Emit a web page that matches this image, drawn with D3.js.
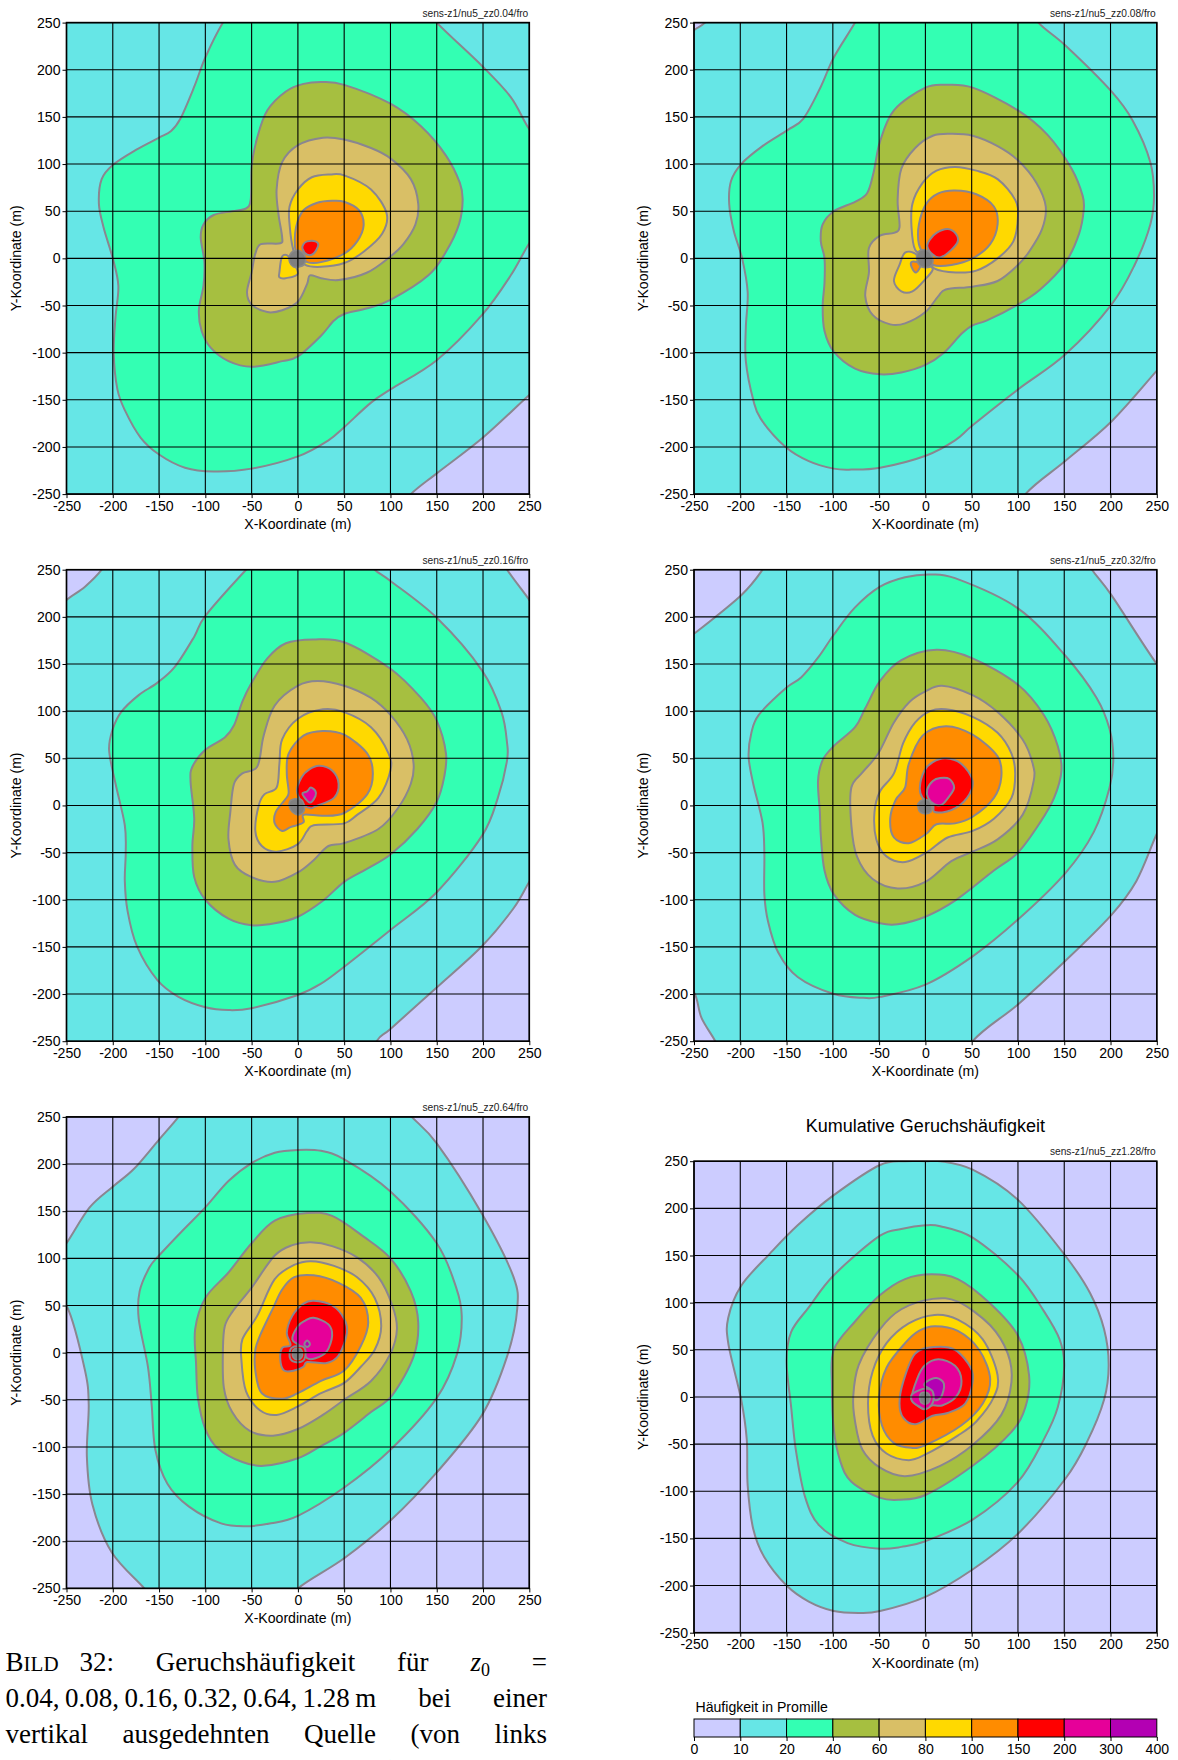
<!DOCTYPE html>
<html><head><meta charset="utf-8">
<style>html,body{margin:0;padding:0;background:#fff;overflow:hidden}svg{display:block}</style>
<script src="https://cdn.jsdelivr.net/npm/d3@7/dist/d3.min.js"></script>
</head><body><div id="chart"></div>
<script>
// ---------- shared scale content ----------
const thresholds = [0,10,20,40,60,80,100,150,200,300,400];
const bandColors = ["#ccccff","#66e6e6","#33ffb3","#a6bf40","#d9bf66","#ffd900","#ff8c00","#ff0000","#e60099","#b300b3"];
const axisTicks = [-250,-200,-150,-100,-50,0,50,100,150,200,250];
const headers = ["sens-z1/nu5_zz0.04/fro","sens-z1/nu5_zz0.08/fro","sens-z1/nu5_zz0.16/fro","sens-z1/nu5_zz0.32/fro","sens-z1/nu5_zz0.64/fro","sens-z1/nu5_zz1.28/fro"];

// ---------- panel 1 (z0 = 0.04) ----------
const p1c10=[[-300,300],[300,300],[300,-100],[275,-125],[250,-145],[200,-190],[150,-228],[122,-250],[100,-275],[60,-300],[-300,-300]];
const p1c20=[[-81,250],[-100,213],[-112,182],[-127,148],[-137,135],[-150,128],[-175,115],[-200,99],[-212,84],[-215,58],[-210,33],[-200,0],[-194,-29],[-197,-62],[-199,-100],[-195,-139],[-187,-161],[-170,-190],[-150,-208],[-122,-222],[-91,-226],[-50,-223],[0,-210],[33,-193],[50,-179],[79,-153],[100,-139],[150,-108],[199,-60],[230,-18],[250,16],[275,50],[280,90],[270,115],[250,137],[230,171],[199,204],[150,250],[130,275],[60,285],[-60,280]];
const p1c40=[[27,187],[50,184],[100,164],[133,140],[160,109],[175,80],[178,62],[174,36],[160,7],[141,-18],[100,-44],[75,-53],[50,-59],[39,-66],[25,-82],[0,-104],[-17,-109],[-50,-115],[-75,-109],[-94,-95],[-104,-77],[-107,-55],[-102,-29],[-101,-4],[-105,22],[-102,36],[-91,46],[-71,50],[-56,53],[-51,62],[-50,98],[-44,128],[-33,157],[-13,177],[6,185]];
const p1c60=[[27,128],[50,126],[79,117],[100,106],[122,84],[130,58],[127,36],[114,15],[100,2],[75,-15],[44,-23],[25,-21],[13,-18],[10,-27],[0,-46],[-17,-55],[-33,-57],[-50,-49],[-55,-36],[-50,-15],[-46,5],[-40,15],[-19,16],[-17,22],[-21,47],[-23,73],[-17,102],[0,120]];
const p1c80=[[35,89],[50,88],[79,73],[96,47],[91,26],[71,7],[50,-5],[25,-9],[8,-7],[-1,4],[-5,9],[-9,36],[-9,55],[0,73],[15,86]];
const p1c80b=[[-17,2],[-10,2],[0,-16],[-13.5,-21],[-20,-20],[-20,-15]];
const p1c100=[[37,61],[50,60],[66,51],[71,35],[64,18],[50,5],[25,-4],[10,-4],[0,5],[-3,11],[-2,33],[6,51],[21,59]];
const p1c150=[[10,18],[19,18],[22,14],[17,5],[10,4],[5,10],[6,15]];
const p1src=[[-9,3],[-4,8],[4,7],[8,1],[7,-6],[2,-9],[-5,-9],[-9,-4]];

// ---------- panel 2 (z0 = 0.08) ----------
const p2c10=[[-238,250],[-250,242],[-270,225],[-300,200],[-300,-300],[70,-300],[108,-250],[151,-215],[201,-173],[250,-119],[275,-90],[300,-70],[300,300],[-200,300],[-220,270]];
const p2c20=[[-76,250],[-99,213],[-113,182],[-132,148],[-149,136],[-176,119],[-199,100],[-210,82],[-212,58],[-207,29],[-198,0],[-192,-36],[-194,-73],[-194,-109],[-186,-150],[-178,-170],[-151,-200],[-126,-215],[-99,-223],[-80,-224],[-49,-222],[1,-209],[32,-193],[51,-177],[100,-139],[151,-102],[201,-49],[226,-7],[243,36],[247,66],[243,102],[224,146],[201,177],[151,226],[122,250],[100,280],[20,290],[-60,280]];
const p2c40=[[22,184],[51,181],[100,157],[132,131],[158,95],[170,66],[171,51],[166,26],[151,-5],[124,-33],[100,-49],[66,-66],[51,-71],[39,-80],[20,-100],[0,-113],[-26,-121],[-49,-123],[-76,-117],[-99,-99],[-109,-77],[-111,-51],[-109,-26],[-109,0],[-113,18],[-111,36],[-99,50],[-76,60],[-63,69],[-56,91],[-49,124],[-34,157],[0,181]];
const p2c60=[[28,132],[51,130],[78,119],[100,104],[120,80],[130,55],[126,31],[112,7],[100,-7],[78,-24],[51,-30],[22,-33],[14,-40],[0,-57],[-22,-69],[-38,-70],[-57,-60],[-65,-40],[-61,-15],[-61,11],[-49,24],[-34,27],[-28,33],[-30,62],[-26,95],[-11,117],[8,130]];
const p2c80=[[32,97],[55,93],[78,84],[97,62],[100,44],[95,18],[78,0],[55,-13],[33,-15],[10,-11],[1,2],[-11,9],[-15,33],[-14,58],[-3,80],[12,93]];
const p2c80b=[[-22,6],[-11,5],[-3,-5],[8,-11],[0,-22],[-14,-35],[-26,-35],[-34,-24],[-28,-7]];
const p2c100=[[32,72],[55,68],[74,55],[78,36],[70,15],[51,0],[28,-7],[8,-7],[0,2],[-7,15],[-7,36],[1,58],[14,69]];
const p2c100b=[[-15,-4],[-9,-4],[-5,-7],[-10,-15],[-15,-9]];
const p2c150=[[12,27],[24,31],[33,26],[35,18],[28,9],[16,1],[8,4],[2,13],[5,20]];
const p2src=[[-9,5],[-3,9],[4,7],[8,0],[7,-7],[1,-10],[-6,-8],[-9,-2]];

// ---------- panel 3 (z0 = 0.16) ----------
const p3c10=[[-212,250],[-230,232],[-250,218],[-270,200],[-300,170],[-300,-300],[60,-300],[85,-250],[100,-237],[150,-193],[199,-149],[233,-109],[250,-81],[270,-50],[300,-20],[300,180],[270,190],[250,218],[226,250],[215,270],[200,300],[-180,300],[-200,270]];
const p3c20=[[-56,250],[-100,201],[-112,179],[-133,147],[-152,130],[-172,117],[-191,99],[-200,81],[-204,59],[-197,23],[-187,-21],[-186,-50],[-187,-80],[-184,-112],[-174,-149],[-152,-185],[-129,-203],[-100,-214],[-75,-217],[-50,-215],[0,-201],[25,-189],[50,-171],[100,-132],[150,-92],[199,-32],[216,8],[226,48],[226,66],[220,99],[199,143],[150,199],[100,238],[83,250],[75,262],[10,275],[-40,265]];
const p3c40=[[17,176],[50,173],[100,145],[133,114],[150,90],[160,55],[158,30],[150,4],[129,-25],[100,-52],[75,-67],[50,-81],[27,-101],[0,-118],[-25,-125],[-50,-127],[-75,-120],[-100,-100],[-112,-76],[-114,-43],[-112,-14],[-116,26],[-114,41],[-100,59],[-79,72],[-69,85],[-60,110],[-50,130],[-33,156],[-13,172]];
const p3c60=[[21,132],[50,127],[79,114],[100,96],[118,70],[125,44],[122,23],[108,-3],[87,-25],[50,-40],[33,-43],[17,-58],[0,-71],[-25,-81],[-50,-76],[-68,-63],[-75,-36],[-73,-7],[-69,23],[-60,34],[-44,41],[-37,74],[-25,106],[0,127]];
const p3c80=[[27,102],[50,99],[79,83],[98,55],[100,37],[87,8],[64,-10],[50,-19],[17,-21],[10,-27],[0,-41],[-23,-49],[-39,-43],[-46,-27],[-42,1],[-36,12],[-23,19],[-20,44],[-17,70],[0,92]];
const p3c100=[[27,79],[50,75],[75,55],[81,34],[75,12],[50,-8],[27,-11],[6,-10],[6,-18],[-8,-23],[-17,-27],[-25,-19],[-24,-7],[-14,6],[-10,13],[-12,34],[-10,55],[6,74]];
const p3c150=[[23,42],[37,37],[44,23],[39,8],[19,-1],[14,-3],[7,0],[-1,15],[4,30],[12,38]];
const p3c200=[[10,15],[14,19],[19,15],[19,10],[13,3],[6,10],[5,13]];
const p3src=[[-9,4],[-3,7],[4,6],[7,-1],[6,-7],[0,-10],[-6,-7],[-9,-2]];

// ---------- panel 4 (z0 = 0.32) ----------
const p4c10=[[-176,250],[-199,223],[-250,182],[-280,160],[-300,150],[-300,-170],[-270,-180],[-250,-198],[-242,-225],[-227,-250],[-215,-275],[-200,-300],[20,-300],[51,-250],[100,-211],[151,-165],[201,-116],[228,-80],[250,-30],[270,10],[300,40],[300,120],[270,130],[250,150],[201,223],[180,250],[165,275],[150,300],[-150,300],[-165,270]];
const p4c20=[[5,245],[32,241],[100,209],[151,159],[185,114],[199,81],[203,50],[199,19],[182,-28],[151,-72],[100,-121],[51,-160],[0,-190],[-49,-203],[-67,-204],[-99,-200],[-138,-182],[-159,-156],[-170,-123],[-174,-94],[-174,-50],[-176,-18],[-186,23],[-191,52],[-188,77],[-180,96],[-150,125],[-134,136],[-115,158],[-99,181],[-76,210],[-49,232],[-22,242]];
const p4c40=[[12,165],[51,156],[100,128],[128,96],[143,63],[147,37],[139,8],[124,-18],[100,-50],[74,-69],[32,-101],[0,-118],[-30,-126],[-49,-125],[-76,-116],[-99,-94],[-109,-69],[-113,-32],[-114,-7],[-116,26],[-111,48],[-99,63],[-76,83],[-65,103],[-49,132],[-26,154]];
const p4c60=[[18,127],[51,117],[78,99],[105,70],[116,44],[117,26],[105,-10],[78,-36],[51,-49],[28,-59],[0,-81],[-30,-88],[-57,-78],[-74,-54],[-80,-21],[-80,19],[-68,35],[-51,55],[-34,88],[-17,110],[0,121]];
const p4c80=[[22,102],[51,94],[78,77],[93,55],[97,34],[93,8],[74,-14],[51,-27],[24,-34],[1,-50],[-22,-60],[-42,-54],[-53,-36],[-55,-7],[-49,15],[-34,34],[-24,66],[-11,88],[5,100]];
const p4c100=[[22,84],[51,75],[78,52],[82,30],[74,8],[51,-12],[32,-19],[12,-20],[1,-30],[-18,-40],[-34,-34],[-38,-14],[-32,6],[-22,19],[-18,44],[-3,74]];
const p4c150=[[22,50],[39,44],[51,26],[45,8],[28,-5],[10,-7],[8,1],[-3,8],[-6,19],[-1,37],[8,46]];
const p4c200=[[16,29],[26,28],[31,19],[26,10],[18,1],[10,1],[3,8],[2,17],[8,26]];
const p4src=[[-8,2],[-3,6],[4,5],[7,-1],[6,-7],[0,-9],[-6,-7],[-8,-2]];

// ---------- panel 5 (z0 = 0.64) ----------
const p5c10=[[-129,250],[-150,226],[-177,195],[-200,176],[-225,154],[-250,116],[-270,90],[-285,75],[-270,65],[-250,50],[-230,-19],[-226,-55],[-228,-110],[-222,-161],[-201,-212],[-166,-250],[-150,-270],[-90,-290],[-20,-275],[0,-250],[50,-218],[100,-178],[150,-127],[199,-66],[226,-4],[237,47],[233,80],[199,147],[150,222],[123,250],[110,265],[60,285],[-90,285],[-115,270]];
const p5c20=[[0,215],[25,214],[50,205],[100,171],[150,116],[171,69],[177,39],[172,-1],[150,-48],[100,-103],[50,-143],[0,-173],[-29,-181],[-56,-184],[-83,-181],[-118,-163],[-141,-139],[-154,-103],[-158,-55],[-162,-15],[-172,36],[-171,65],[-160,91],[-150,103],[-125,129],[-100,154],[-75,182],[-50,201],[-25,212]];
const p5c40=[[10,148],[37,145],[71,123],[100,100],[122,65],[130,32],[125,-4],[102,-45],[79,-63],[50,-85],[25,-99],[0,-112],[-37,-120],[-60,-116],[-87,-101],[-100,-81],[-108,-48],[-110,-12],[-111,25],[-100,58],[-75,85],[-50,116],[-25,140]];
const p5c60=[[14,117],[37,113],[64,101],[87,80],[102,50],[107,25],[100,-1],[79,-30],[50,-50],[27,-66],[0,-81],[-27,-88],[-52,-83],[-71,-63],[-80,-37],[-81,3],[-79,28],[-71,43],[-50,69],[-25,103],[-6,114]];
const p5c80=[[14,97],[39,92],[64,80],[83,58],[90,28],[83,3],[68,-15],[50,-32],[25,-43],[0,-57],[-23,-66],[-41,-61],[-56,-41],[-61,-8],[-60,14],[-44,39],[-25,78],[-4,93]];
const p5c100=[[17,82],[44,74],[68,58],[76,32],[68,7],[50,-19],[25,-30],[0,-43],[-17,-49],[-39,-43],[-46,-19],[-46,3],[-41,18],[-27,47],[-17,67],[-4,80]];
const p5c150=[[17,55],[37,50],[50,36],[53,21],[44,-3],[31,-11],[10,-10],[6,-15],[-4,-19],[-15,-19],[-19,-8],[-17,5],[-8,8],[-12,21],[-6,39],[6,52]];
const p5c200=[[17,37],[33,30],[37,18],[31,1],[19,-6],[10,-6],[2,7],[-6,14],[0,28],[8,34]];
const p5c300=[[10,13],[13,9],[10,6],[7,9]];
const p5rim=[[-7,5],[0,7],[7,5],[8,-4],[5,-9],[-3,-10],[-8,-7],[-9,0]];
const p5src=[[-5,3],[0,5],[4,3],[5,-3],[2,-7],[-3,-7],[-6,-3]];

// ---------- panel 6 (z0 = 1.28) ----------
const p6c10=[[0,250],[-22,250],[-49,246],[-99,214],[-138,182],[-168,152],[-199,118],[-213,84],[-213,57],[-199,-3],[-193,-45],[-192,-94],[-186,-140],[-174,-170],[-150,-200],[-126,-217],[-99,-227],[-72,-229],[-49,-227],[0,-212],[51,-183],[100,-145],[151,-87],[174,-49],[193,-3],[198,34],[193,72],[178,110],[151,150],[100,209],[51,241],[16,250]];
const p6c20=[[0,182],[16,181],[51,169],[100,129],[128,91],[145,61],[150,33],[143,-11],[128,-45],[100,-90],[51,-130],[0,-153],[-26,-159],[-49,-161],[-84,-155],[-115,-136],[-130,-106],[-140,-56],[-145,-11],[-150,38],[-145,69],[-126,95],[-99,129],[-49,171],[-26,178]];
const p6c40=[[7,130],[35,125],[70,99],[100,65],[112,23],[108,-11],[93,-37],[51,-73],[0,-104],[-28,-109],[-49,-107],[-80,-90],[-92,-68],[-99,-34],[-101,12],[-99,50],[-76,80],[-49,108],[-22,125]];
const p6c60=[[8,104],[35,101],[70,76],[89,46],[93,16],[82,-19],[51,-51],[16,-73],[-22,-84],[-49,-75],[-68,-56],[-76,-26],[-78,0],[-72,34],[-49,72],[-26,93]];
const p6c80=[[10,87],[35,82],[62,61],[78,23],[74,0],[55,-26],[35,-41],[0,-61],[-18,-67],[-42,-60],[-57,-41],[-62,-7],[-57,27],[-42,57],[-18,78]];
const p6c100=[[10,75],[35,70],[58,50],[70,19],[62,-7],[39,-30],[0,-51],[-15,-54],[-34,-49],[-47,-30],[-50,0],[-42,31],[-22,57],[-7,70]];
const p6c150=[[10,53],[32,50],[49,31],[51,16],[43,-7],[24,-17],[8,-20],[-11,-29],[-24,-22],[-28,-7],[-24,16],[-11,46]];
const p6c200=[[14,40],[32,33],[39,17],[33,0],[18,-9],[7,-9],[-2,-13],[-11,-7],[-15,-2],[-9,19],[-1,33]];
const p6c300=[[12,20],[20,14],[17,0],[10,-3],[5,8],[-1,12],[1,16]];
const p6rim=[[-7,7],[0,9],[7,7],[9,0],[7,-8],[0,-13],[-7,-10],[-14,-5],[-15,2]];
const p6src=[[-5,4],[0,5],[4,3],[5,-3],[2,-7],[-3,-7],[-6,-3]];

// ---------- which contour is filled with which level ----------
const panelLevels = [
 [[10,p1c10],[20,p1c20],[40,p1c40],[60,p1c60],[80,p1c80],[80,p1c80b],[100,p1c100],[150,p1c150]],
 [[10,p2c10],[20,p2c20],[40,p2c40],[60,p2c60],[80,p2c80],[80,p2c80b],[100,p2c100],[100,p2c100b],[150,p2c150]],
 [[10,p3c10],[20,p3c20],[40,p3c40],[60,p3c60],[80,p3c80],[100,p3c100],[150,p3c150],[200,p3c200]],
 [[10,p4c10],[20,p4c20],[40,p4c40],[60,p4c60],[80,p4c80],[100,p4c100],[150,p4c150],[200,p4c200]],
 [[10,p5c10],[20,p5c20],[40,p5c40],[60,p5c60],[80,p5c80],[100,p5c100],[150,p5c150],[200,p5c200],[300,p5c300],[150,p5rim]],
 [[10,p6c10],[20,p6c20],[40,p6c40],[60,p6c60],[80,p6c80],[100,p6c100],[150,p6c150],[200,p6c200],[300,p6c300],[200,p6rim]]
];
const panelSources = [p1src,p2src,p3src,p4src,p5src,p6src];

// ---------- caption ----------
const captionLines = [
 [{t:"B",s:27},{t:"ILD",s:21},{t:" 32:  Geruchshäufigkeit  für  ",s:27},{t:"z",s:27,i:1},{t:"0",s:18,d:5},{t:"  =",s:27,dm:-5}],
 [{t:"0.04,\u20090.08,\u20090.16,\u20090.32,\u20090.64,\u20091.28\u2009m  bei  einer",s:27}],
 [{t:"vertikal  ausgedehnten  Quelle  (von  links",s:27}],
 [{t:"oben  nach  unten  betrachtet)  und  bei",s:27}]
];

// ---------- layout ----------
const W=1178,H=1760,pw=462.8,ph=471.5;
const origins=[[66.5,22.6],[694,22.6],[66.5,569.7],[694,569.7],[66.5,1116.9],[694,1161.2]];
const font="'Liberation Sans',Arial,sans-serif", fs=14.1;
const svg=d3.select("#chart").append("svg").attr("width",W).attr("height",H).attr("viewBox",`0 0 ${W} ${H}`);
const colorOf=v=>bandColors[thresholds.indexOf(v)];
const lineColor="#8a8690";

origins.forEach(([ox,oy],i)=>{
  const x=d3.scaleLinear().domain([-250,250]).range([0,pw]);
  const y=d3.scaleLinear().domain([-250,250]).range([ph,0]);
  const g=svg.append("g").attr("transform",`translate(${ox},${oy})`);
  const clipId="clip"+i;
  g.append("clipPath").attr("id",clipId).append("rect").attr("width",pw).attr("height",ph);
  const plot=g.append("g").attr("clip-path",`url(#${clipId})`);
  plot.append("rect").attr("width",pw).attr("height",ph).attr("fill",bandColors[0]);
  const line=d3.line().x(d=>x(d[0])).y(d=>y(d[1])).curve(d3.curveCatmullRomClosed.alpha(0.1));
  plot.selectAll("path.c").data(panelLevels[i]).join("path").attr("class","c")
    .attr("d",d=>line(d[1])).attr("fill",d=>colorOf(d[0]))
    .attr("stroke",lineColor).attr("stroke-width",2).attr("stroke-linejoin","round");
  plot.append("path").attr("d",line(panelSources[i])).attr("fill","#7f7f7f").attr("stroke","#8a8a8a").attr("stroke-width",1.5);
  // grid
  g.append("g").selectAll("line").data(axisTicks).join("line")
    .attr("x1",d=>x(d)).attr("x2",d=>x(d)).attr("y1",0).attr("y2",ph).attr("stroke","#000").attr("stroke-width",1.1);
  g.append("g").selectAll("line").data(axisTicks).join("line")
    .attr("y1",d=>y(d)).attr("y2",d=>y(d)).attr("x1",0).attr("x2",pw).attr("stroke","#000").attr("stroke-width",1.1);
  g.append("rect").attr("width",pw).attr("height",ph).attr("fill","none").attr("stroke","#000").attr("stroke-width",1.6);
  // axes
  const ax=d3.axisBottom(x).tickValues(axisTicks).tickSize(4).tickPadding(2.5).tickFormat(d=>String(d));
  const ay=d3.axisLeft(y).tickValues(axisTicks).tickSize(4).tickPadding(2).tickFormat(d=>String(d));
  const gx=g.append("g").attr("transform",`translate(0,${ph})`).call(ax);
  const gy=g.append("g").call(ay);
  [gx,gy].forEach(a=>{a.select(".domain").remove();a.selectAll("line").attr("stroke","#000");
    a.selectAll("text").attr("font-family",font).attr("font-size",fs).attr("fill","#000");});
  g.append("text").attr("x",pw/2).attr("y",ph+35).attr("text-anchor","middle").attr("font-family",font).attr("font-size",fs).text("X-Koordinate (m)");
  g.append("text").attr("transform",`translate(${-46},${ph/2}) rotate(-90)`).attr("text-anchor","middle").attr("font-family",font).attr("font-size",fs).text("Y-Koordinate (m)");
  g.append("text").attr("x",pw-1).attr("y",-6).attr("text-anchor","end").attr("font-family",font).attr("font-size",10.2).attr("fill","#222").text(headers[i]);
  if(i===5) g.append("text").attr("x",pw/2).attr("y",-29.5).attr("text-anchor","middle").attr("font-family",font).attr("font-size",18).text("Kumulative Geruchshäufigkeit");
});

// colour bar
{
  const barX=694,barY=1719,barH=18;
  const cb=svg.append("g").attr("transform",`translate(${barX},${barY})`);
  const xb=d3.scalePoint().domain(thresholds).range([0,pw]);
  cb.selectAll("rect").data(bandColors).join("rect")
    .attr("x",(d,i)=>xb(thresholds[i])).attr("width",(d,i)=>xb(thresholds[i+1])-xb(thresholds[i]))
    .attr("height",barH).attr("fill",d=>d).attr("stroke","#000").attr("stroke-width",1);
  const axb=d3.axisBottom(xb).tickSize(4).tickPadding(2.5);
  const gb=cb.append("g").attr("transform",`translate(0,${barH})`).call(axb);
  gb.select(".domain").remove();
  gb.selectAll("line").attr("stroke","#000");
  gb.selectAll("text").attr("font-family",font).attr("font-size",fs).attr("fill","#000");
  svg.append("text").attr("x",695.5).attr("y",1711.5).attr("font-family",font).attr("font-size",fs).text("Häufigkeit in Promille");
}

// caption, justified between two margins
const capX=5.6,capR=547,capY=1671,capStep=36;
captionLines.forEach((parts,k)=>{
  const t=svg.append("text").attr("x",capX).attr("y",capY+k*capStep).attr("font-family","'Liberation Serif',serif").style("white-space","pre");
  parts.forEach(p=>{const s=t.append("tspan").attr("font-size",p.s).text(p.t);
    if(p.i)s.attr("font-style","italic"); if(p.d)s.attr("dy",p.d); if(p.dm)s.attr("dy",p.dm);});
  const full=parts.map(p=>p.t).join("");
  const spaces=(full.match(/ /g)||[]).length;
  const len=t.node().getComputedTextLength();
  if(spaces) t.attr("word-spacing",(capR-capX-len)/spaces);
});
</script></body></html>
